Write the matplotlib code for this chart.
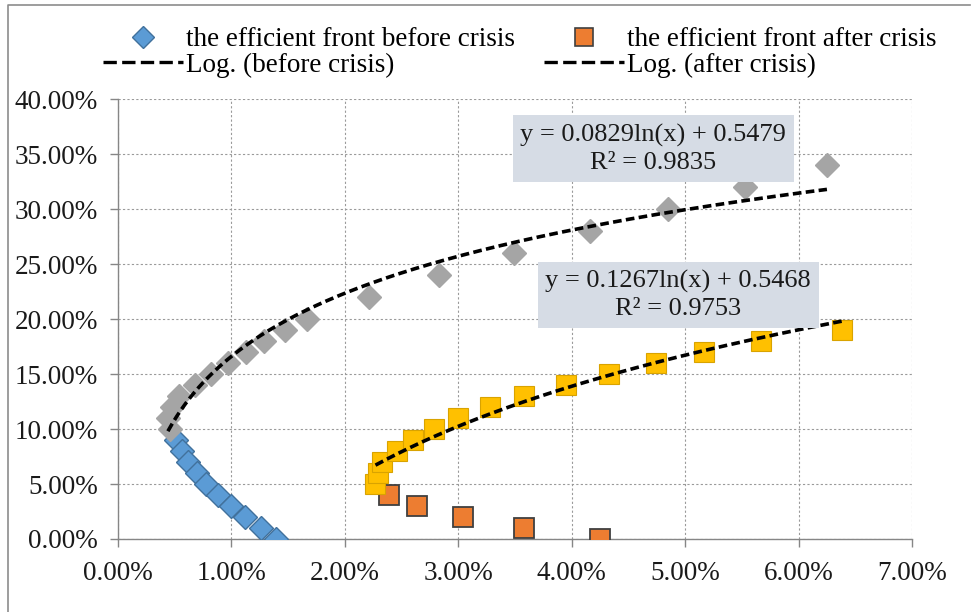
import numpy as np
import matplotlib.pyplot as plt
from matplotlib.lines import Line2D
from matplotlib.ticker import FuncFormatter

plt.rcParams['font.family'] = ['Liberation Serif', 'DejaVu Serif']

# before crisis: lower (inefficient) branch and efficient front, in %
before_low_x = [0.51, 0.56, 0.62, 0.70, 0.78, 0.88, 1.00, 1.12, 1.26, 1.39]
before_low_y = [9, 8, 7, 6, 5, 4, 3, 2, 1, 0]
before_up_x = [0.46, 0.44, 0.48, 0.54, 0.68, 0.82, 0.97, 1.13, 1.29, 1.47, 1.67,
               2.21, 2.83, 3.49, 4.16, 4.85, 5.53, 6.25]
before_up_y = [10, 11, 12, 13, 14, 15, 16, 17, 18, 19, 20,
               22, 24, 26, 28, 30, 32, 34]

# after crisis
after_low_x = [2.39, 2.64, 3.04, 3.58, 4.25]
after_low_y = [4, 3, 2, 1, 0]
after_up_x = [2.27, 2.29, 2.33, 2.46, 2.60, 2.79, 3.00, 3.28, 3.58, 3.95, 4.33,
              4.74, 5.17, 5.67, 6.38]
after_up_y = [5, 6, 7, 8, 9, 10, 11, 12, 13, 14, 15, 16, 17, 18, 19]

# log trend lines y = a*ln(x) + b (x, y as fractions), plus R^2
fit_before = (0.0829, 0.5479, 0.9835)
fit_after = (0.1267, 0.5468, 0.9753)

fig = plt.figure(figsize=(9.79, 6.12), dpi=100)
ax = fig.add_axes([118 / 979, 1 - 539 / 612, 794 / 979, 439.7 / 612])

ax.grid(True, color='#9a9a9a', lw=0.8, ls=(0, (2, 2)))
ax.set_axisbelow(True)

dia_ms = 12.5
sq_ms = 15

ax.plot(before_low_x, before_low_y, 'D', ms=dia_ms, mfc='#5B9BD5', mec='#41719C',
        mew=1.0, zorder=3)
ax.plot(before_up_x, before_up_y, 'D', ms=dia_ms, mfc='#A5A5A5', mec='#A5A5A5',
        mew=1.0, zorder=3)
ax.plot(after_low_x, after_low_y, 's', ms=sq_ms, mfc='#ED7D31', mec='#404040',
        mew=1.3, zorder=3)
ax.plot(after_up_x, after_up_y, 's', ms=sq_ms, mfc='#FFC000', mec='#D9A300',
        mew=0.8, zorder=3)

# trend lines
trend_ls = (0, (2.4, 1.2))
xb = np.linspace(min(before_up_x), max(before_up_x), 300)
yb = fit_before[0] * np.log(xb / 100) + fit_before[1]
ax.plot(xb, yb * 100, color='black', lw=2.6, ls=trend_ls, zorder=4)
xa = np.linspace(min(after_up_x), max(after_up_x), 300)
ya = fit_after[0] * np.log(xa / 100) + fit_after[1]
ax.plot(xa, ya * 100, color='black', lw=2.6, ls=trend_ls, zorder=4)

box = dict(boxstyle='square,pad=0.3', fc='#D6DCE5', ec='none')
ax.text(4.72, 35.5, 'y = %.4fln(x) + %.4f\nR\u00b2 = %.4f' % fit_before,
        ha='center', va='center', fontsize=19, linespacing=1.3, bbox=box,
        zorder=5, color='#1a1a1a')
ax.text(4.94, 22.2, 'y = %.4fln(x) + %.4f\nR\u00b2 = %.4f' % fit_after,
        ha='center', va='center', fontsize=19, linespacing=1.3, bbox=box,
        zorder=5, color='#1a1a1a')

ax.set_xlim(0, 7)
ax.set_ylim(0, 40)
ax.set_xticks(np.arange(0, 8, 1))
ax.set_yticks(np.arange(0, 45, 5))
ax.xaxis.set_major_formatter(FuncFormatter(lambda v, p: '%.2f%%' % v))
ax.yaxis.set_major_formatter(FuncFormatter(lambda v, p: '%.2f%%' % v))
ax.tick_params(axis='both', labelsize=19.5, colors='#868686', length=5.5,
               width=1, labelcolor='#1a1a1a')
ax.tick_params(axis='y', pad=9)
ax.tick_params(axis='x', pad=10)
for s in ['top', 'right']:
    ax.spines[s].set_visible(False)
for s in ['left', 'bottom']:
    ax.spines[s].set_color('#868686')
    ax.spines[s].set_linewidth(1.0)

legend_ls = (0, (4, 1.6))
handles = [
    Line2D([], [], ls='none', marker='D', ms=11, mfc='#5B9BD5', mec='#41719C'),
    Line2D([], [], color='black', lw=2.4, ls=legend_ls),
    Line2D([], [], ls='none', marker='s', ms=13, mfc='#ED7D31', mec='#404040',
           mew=1.2),
    Line2D([], [], color='black', lw=2.4, ls=legend_ls),
]
labels = ['the efficient front before crisis', 'Log. (before crisis)',
          'the efficient front after crisis', 'Log. (after crisis)']
fig.legend(handles, labels, ncol=2, loc='upper left',
           bbox_to_anchor=(103 / 979, 1 - 27 / 612), frameon=False,
           fontsize=19.5, borderpad=0, borderaxespad=0, handlelength=2.95,
           handletextpad=0.1, columnspacing=1.1, labelspacing=0.02)

# screenshot frame: only top and left edges visible
fig.add_artist(Line2D([8 / 979, 8 / 979, 970 / 979], [0, 1 - 5 / 612, 1 - 5 / 612],
                      transform=fig.transFigure, color='#8c8c8c', lw=1.2))

fig.savefig('out.png', dpi=100)
